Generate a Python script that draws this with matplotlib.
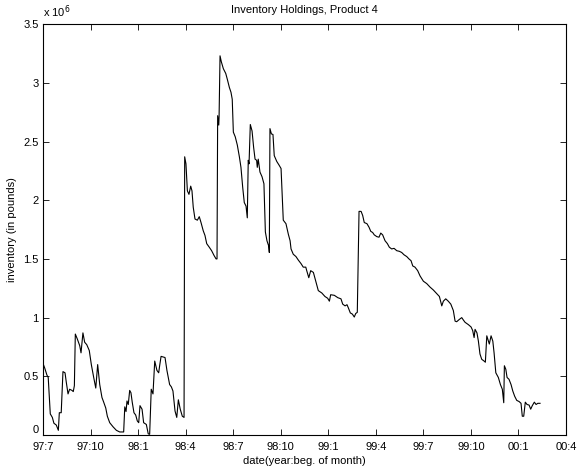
import matplotlib
matplotlib.use('Agg')
import matplotlib.pyplot as plt
import numpy as np

# months after the start of July 1997
months = [0.00, 0.11, 0.25, 0.33, 0.46, 0.59, 0.69, 0.84, 0.97, 1.03, 1.15, 1.26, 1.39, 1.47, 1.58, 1.68,
          1.83, 1.91, 1.98, 2.04, 2.16, 2.32, 2.40, 2.52, 2.63, 2.76, 2.92, 3.05, 3.20, 3.33, 3.45, 3.58,
          3.72, 3.83, 3.96, 4.06, 4.21, 4.42, 4.63, 4.84, 5.09, 5.16, 5.24, 5.30, 5.38, 5.47, 5.55, 5.63,
          5.74, 5.85, 5.95, 6.04, 6.12, 6.25, 6.35, 6.52, 6.64, 6.73, 6.83, 6.94, 7.05, 7.19, 7.30, 7.36,
          7.45, 7.70, 7.82, 7.99, 8.10, 8.20, 8.33, 8.44, 8.54, 8.66, 8.79, 8.90, 8.94, 9.02, 9.11, 9.21,
          9.32, 9.40, 9.48, 9.59, 9.74, 9.86, 9.97, 10.11, 10.22, 10.33, 10.49, 10.64, 10.79, 10.92, 10.98, 11.02,
          11.09, 11.11, 11.17, 11.25, 11.38, 11.53, 11.63, 11.76, 11.86, 11.94, 12.01, 12.13, 12.26, 12.39, 12.49, 12.60,
          12.70, 12.81, 12.89, 12.95, 13.00, 13.08, 13.19, 13.29, 13.38, 13.48, 13.52, 13.58, 13.69, 13.82, 13.94, 14.03,
          14.13, 14.24, 14.28, 14.32, 14.41, 14.51, 14.59, 14.75, 14.89, 15.02, 15.16, 15.33, 15.48, 15.59, 15.65, 15.79,
          15.96, 16.11, 16.28, 16.42, 16.58, 16.64, 16.77, 16.89, 17.06, 17.21, 17.37, 17.59, 17.79, 17.96, 18.07, 18.15,
          18.38, 18.60, 18.80, 18.91, 19.06, 19.18, 19.26, 19.39, 19.52, 19.64, 19.73, 19.83, 19.94, 20.07, 20.17, 20.27,
          20.44, 20.57, 20.68, 20.80, 20.90, 21.06, 21.20, 21.31, 21.43, 21.58, 21.73, 21.85, 22.00, 22.15, 22.32, 22.48,
          22.63, 22.78, 22.95, 23.09, 23.22, 23.33, 23.47, 23.64, 23.79, 24.00, 24.21, 24.42, 24.63, 24.84, 25.01, 25.16,
          25.26, 25.41, 25.57, 25.73, 25.89, 26.00, 26.10, 26.27, 26.42, 26.52, 26.63, 26.84, 27.01, 27.11, 27.20, 27.26,
          27.38, 27.47, 27.57, 27.68, 27.83, 27.91, 28.00, 28.10, 28.16, 28.27, 28.38, 28.46, 28.57, 28.73, 28.86, 28.98,
          29.07, 29.11, 29.20, 29.28, 29.40, 29.53, 29.64, 29.76, 29.89, 30.04, 30.16, 30.24, 30.33, 30.43, 30.54, 30.67,
          30.77, 30.87, 31.00, 31.11, 31.22, 31.36]

# inventory in millions of pounds
inventory = [0.61, 0.57, 0.51, 0.49, 0.18, 0.15, 0.10, 0.085, 0.04, 0.19, 0.19, 0.54, 0.53, 0.45, 0.35, 0.39,
             0.38, 0.37, 0.42, 0.86, 0.82, 0.76, 0.70, 0.87, 0.79, 0.77, 0.72, 0.60, 0.49, 0.40, 0.60, 0.43,
             0.32, 0.28, 0.23, 0.16, 0.105, 0.07, 0.04, 0.026, 0.026, 0.24, 0.20, 0.29, 0.26, 0.38, 0.36, 0.28,
             0.19, 0.17, 0.12, 0.105, 0.25, 0.22, 0.105, 0.09, 0.01, 0.006, 0.39, 0.35, 0.63, 0.55, 0.53, 0.59,
             0.67, 0.66, 0.55, 0.43, 0.41, 0.375, 0.205, 0.15, 0.30, 0.22, 0.16, 0.15, 2.37, 2.31, 2.08, 2.05,
             2.12, 2.08, 1.94, 1.84, 1.83, 1.86, 1.81, 1.74, 1.70, 1.63, 1.60, 1.57, 1.53, 1.50, 1.50, 2.72,
             2.64, 2.71, 3.23, 3.18, 3.12, 3.08, 3.03, 2.96, 2.92, 2.86, 2.58, 2.54, 2.47, 2.37, 2.28, 2.11,
             1.98, 1.95, 1.85, 2.34, 2.31, 2.645, 2.59, 2.45, 2.35, 2.34, 2.28, 2.35, 2.24, 2.20, 2.14, 1.73,
             1.655, 1.61, 1.555, 2.61, 2.565, 2.56, 2.38, 2.33, 2.30, 2.27, 1.83, 1.80, 1.71, 1.655, 1.585, 1.54,
             1.52, 1.49, 1.46, 1.43, 1.43, 1.40, 1.34, 1.40, 1.385, 1.31, 1.23, 1.21, 1.18, 1.165, 1.14, 1.195,
             1.19, 1.17, 1.16, 1.115, 1.10, 1.11, 1.085, 1.04, 1.03, 1.005, 1.035, 1.045, 1.905, 1.905, 1.87, 1.81,
             1.80, 1.77, 1.735, 1.725, 1.705, 1.69, 1.685, 1.72, 1.705, 1.655, 1.63, 1.60, 1.585, 1.59, 1.57, 1.565,
             1.555, 1.535, 1.52, 1.50, 1.485, 1.44, 1.43, 1.40, 1.355, 1.31, 1.29, 1.26, 1.235, 1.205, 1.18, 1.10,
             1.14, 1.16, 1.14, 1.115, 1.06, 0.97, 0.965, 0.985, 1.00, 0.98, 0.96, 0.94, 0.92, 0.89, 0.83, 0.90,
             0.87, 0.80, 0.69, 0.645, 0.63, 0.62, 0.845, 0.80, 0.775, 0.845, 0.80, 0.70, 0.53, 0.49, 0.43, 0.39,
             0.275, 0.59, 0.56, 0.49, 0.475, 0.43, 0.375, 0.33, 0.295, 0.285, 0.27, 0.16, 0.16, 0.28, 0.26, 0.255,
             0.22, 0.25, 0.28, 0.26, 0.27, 0.27]

tick_months = [0, 3, 6, 9, 12, 15, 18, 21, 24, 27, 30, 33]
tick_labels = ['97:7', '97:10', '98:1', '98:4', '98:7', '98:10',
               '99:1', '99:4', '99:7', '99:10', '00:1', '00:4']
y_ticks = [0, 0.5, 1, 1.5, 2, 2.5, 3, 3.5]
y_labels = ['0', '0.5', '1', '1.5', '2', '2.5', '3', '3.5']

plt.rcParams['font.family'] = ['Liberation Sans', 'DejaVu Sans']
plt.rcParams['font.size'] = 8

fig = plt.figure(figsize=(5.77, 4.73), dpi=100)
ax = fig.add_axes([0.0745, 0.0803, 0.9065, 0.8687])

ax.plot(months, np.array(inventory) * 1e6, color='black', linewidth=0.8)

ax.set_xlim(0, 33)
ax.set_ylim(0, 3.5e6)
ax.set_xticks(tick_months)
ax.set_xticklabels(tick_labels)
ax.set_yticks(np.array(y_ticks) * 1e6)
ax.set_yticklabels(y_labels)
ax.tick_params(direction='in', top=True, right=True, length=4, width=0.6, labelsize=8)
ax.tick_params(axis='x', pad=5)
ax.tick_params(axis='y', pad=3)
# lift the "0" label a little so it clears the first date label
ax.get_yticklabels()[0].set_verticalalignment('bottom')
for s in ax.spines.values():
    s.set_linewidth(0.8)

ax.set_title('Inventory Holdings, Product 4', fontsize=8, pad=8)
ax.set_xlabel('date(year:beg. of month)', fontsize=8, labelpad=3)
ax.set_ylabel('inventory (in pounds)', fontsize=8, labelpad=5)
ax.text(0.0, 1.01, r'x 10$^{6}$', transform=ax.transAxes, fontsize=8, ha='left', va='bottom')

fig.savefig('out.png', dpi=100)
